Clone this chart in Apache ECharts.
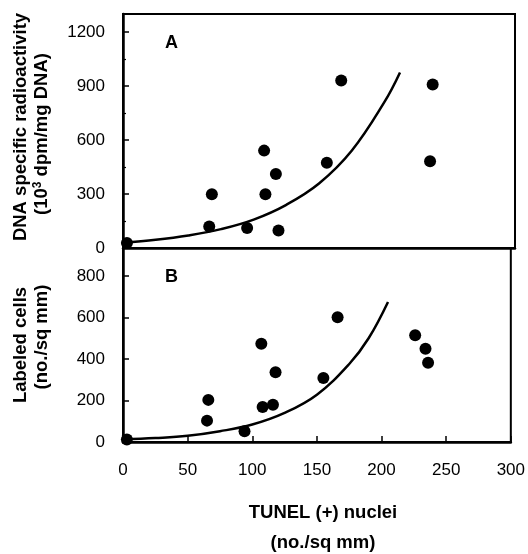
<!DOCTYPE html>
<html>
<head>
<meta charset="utf-8">
<style>
  html, body { margin: 0; padding: 0; background: #fff; }
  #chart { width: 528px; height: 554px; }
</style>
<script src="https://cdn.jsdelivr.net/npm/echarts@6/dist/echarts.min.js"></script>
</head>
<body>
<div id="chart"></div>
<script>
// Panel A: DNA specific radioactivity vs TUNEL (+) nuclei
const tunelA = [3, 68, 66, 95, 119, 108, 109, 117, 156, 167, 237, 235];
const radioactivityA = [28, 299, 120, 111, 97, 541, 299, 411, 474, 930, 908, 482];
// fitted curve through panel A
const curveAx = [0, 25, 50, 75, 100, 125, 150, 175, 200, 212];
const curveAy = [30, 46, 70, 105, 158, 240, 358, 540, 810, 975];

// Panel B: labeled cells vs TUNEL (+) nuclei
const tunelB = [3, 65, 66, 94, 107, 108, 116, 118, 155, 166, 226, 234, 236];
const labeledB = [12, 103, 203, 52, 473, 169, 179, 336, 308, 601, 515, 449, 382];
// fitted curve through panel B
const curveBx = [0, 25, 50, 75, 100, 125, 150, 175, 190, 205];
const curveBy = [12, 19, 30, 52, 84, 140, 228, 376, 500, 675];

// axis ticks
const xTicks = [0, 50, 100, 150, 200, 250, 300];
const yTicksA = [0, 300, 600, 900, 1200];
const yTicksB = [0, 200, 400, 600, 800];

const FONT = "'Liberation Sans', Arial, Helvetica, sans-serif";
const pairs = (xs, ys) => xs.map((x, i) => [x, ys[i]]);

const chart = echarts.init(document.getElementById('chart'), null, { renderer: 'canvas' });

const tickLabel = { color: '#000', fontFamily: FONT, fontSize: 17 };

function yAxisFor(gridIndex, ticks, max, minor) {
  const step = ticks[1] - ticks[0];
  return {
    type: 'value', gridIndex: gridIndex,
    min: ticks[0], max: max, interval: step,
    axisLine: { show: true, lineStyle: { color: '#000', width: 2.5 } },
    axisTick: { show: true, inside: true, length: 6, lineStyle: { color: '#000', width: 1.5 } },
    minorTick: { show: minor, splitNumber: 2, length: 3, lineStyle: { color: '#000', width: 1.2 } },
    splitLine: { show: false },
    axisLabel: Object.assign({ margin: 18, showMaxLabel: false,
      formatter: v => (ticks.indexOf(v) >= 0 ? String(v) : '') }, tickLabel)
  };
}

const dotStyle = { color: '#000', opacity: 1 };

const option = {
  backgroundColor: '#fff',
  animation: false,
  grid: [
    { left: 123, top: 14, width: 392, height: 234, show: true, borderColor: '#000', borderWidth: 2, backgroundColor: 'transparent' },
    { left: 123, top: 248, width: 392, height: 194, show: true, borderColor: '#000', borderWidth: 2, backgroundColor: 'transparent' }
  ],
  xAxis: [
    { type: 'value', gridIndex: 0, min: xTicks[0], max: xTicks[xTicks.length - 1], interval: xTicks[1] - xTicks[0],
      axisLine: { show: true, lineStyle: { color: '#000', width: 2.5 } },
      axisTick: { show: false }, axisLabel: { show: false }, splitLine: { show: false } },
    { type: 'value', gridIndex: 1, min: xTicks[0], max: xTicks[xTicks.length - 1], interval: xTicks[1] - xTicks[0],
      axisLine: { show: true, lineStyle: { color: '#000', width: 2.5 } },
      axisTick: { show: true, inside: true, length: 6, lineStyle: { color: '#000', width: 1.5 } },
      splitLine: { show: false },
      axisLabel: Object.assign({ margin: 20 }, tickLabel) }
  ],
  yAxis: [
    yAxisFor(0, yTicksA, 1300, true),
    yAxisFor(1, yTicksB, 935, false)
  ],
  series: [
    { type: 'line', xAxisIndex: 0, yAxisIndex: 0, data: pairs(curveAx, curveAy),
      smooth: 0.4, showSymbol: false, lineStyle: { color: '#000', width: 2.5 }, z: 2 },
    { type: 'scatter', xAxisIndex: 0, yAxisIndex: 0, data: pairs(tunelA, radioactivityA),
      symbol: 'circle', symbolSize: 12, itemStyle: dotStyle, z: 3 },
    { type: 'line', xAxisIndex: 1, yAxisIndex: 1, data: pairs(curveBx, curveBy),
      smooth: 0.4, showSymbol: false, lineStyle: { color: '#000', width: 2.5 }, z: 2 },
    { type: 'scatter', xAxisIndex: 1, yAxisIndex: 1, data: pairs(tunelB, labeledB),
      symbol: 'circle', symbolSize: 12, itemStyle: dotStyle, z: 3 }
  ],
  graphic: [
    { type: 'text', x: 171.5, y: 43.5, style: { text: 'A', font: 'bold 18px ' + FONT, fill: '#000', align: 'center', verticalAlign: 'middle' } },
    { type: 'text', x: 171.5, y: 277, style: { text: 'B', font: 'bold 18px ' + FONT, fill: '#000', align: 'center', verticalAlign: 'middle' } },
    { type: 'text', x: 21, y: 127, rotation: Math.PI / 2,
      style: { text: 'DNA specific radioactivity', font: 'bold 18.5px ' + FONT, fill: '#000', align: 'center', verticalAlign: 'middle' } },
    { type: 'text', x: 42, y: 134, rotation: Math.PI / 2,
      style: { text: '(10{sup|3} dpm/mg DNA)', font: 'bold 18.5px ' + FONT, fill: '#000', align: 'center', verticalAlign: 'middle',
        rich: { sup: { font: 'bold 12px ' + FONT, fill: '#000', verticalAlign: 'top', lineHeight: 20 } } } },
    { type: 'text', x: 21, y: 345, rotation: Math.PI / 2,
      style: { text: 'Labeled cells', font: 'bold 18.5px ' + FONT, fill: '#000', align: 'center', verticalAlign: 'middle' } },
    { type: 'text', x: 42, y: 337, rotation: Math.PI / 2,
      style: { text: '(no./sq mm)', font: 'bold 18.5px ' + FONT, fill: '#000', align: 'center', verticalAlign: 'middle' } },
    { type: 'text', x: 323, y: 512.5,
      style: { text: 'TUNEL (+) nuclei', font: 'bold 18.5px ' + FONT, fill: '#000', align: 'center', verticalAlign: 'middle' } },
    { type: 'text', x: 323, y: 543,
      style: { text: '(no./sq mm)', font: 'bold 18.5px ' + FONT, fill: '#000', align: 'center', verticalAlign: 'middle' } }
  ]
};

chart.setOption(option);
</script>
</body>
</html>
